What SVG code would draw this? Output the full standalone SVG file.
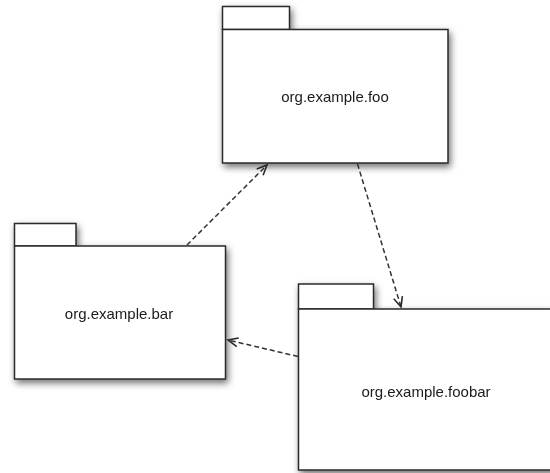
<svg xmlns="http://www.w3.org/2000/svg" width="550" height="473" viewBox="0 0 550 473">
  <style>
    .pkg { fill: #ffffff; stroke: #2a2a2a; stroke-width: 1.5; }
    .lbl { font-family: "Liberation Sans", Arial, sans-serif; font-size: 15px; fill: #1a1a1a; text-anchor: middle; }
    .dep { fill: none; stroke: #333333; stroke-width: 1.5; stroke-dasharray: 5 3; }
  </style>
  <defs>
    <filter id="shadow" x="-10%" y="-10%" width="130%" height="130%">
      <feDropShadow dx="2" dy="3.5" stdDeviation="3.5" flood-color="#000" flood-opacity="0.55"/>
    </filter>
    <marker id="open" markerUnits="userSpaceOnUse" markerWidth="16" markerHeight="16" refX="0" refY="0" viewBox="-12 -8 16 16" orient="auto" overflow="visible">
      <path d="M -10 -4.5 L 0 0 L -10 4.5" fill="none" stroke="#2a2a2a" stroke-width="1.6" stroke-dasharray="none"/>
    </marker>
  </defs>
  <rect width="550" height="473" fill="#ffffff"/>

  <g id="foo" filter="url(#shadow)">
    <rect class="pkg" x="222.5" y="6.5" width="67" height="23"/>
    <rect class="pkg" x="222.5" y="29.5" width="225.5" height="133.5"/>
    <text class="lbl" x="335" y="102">org.example.foo</text>
  </g>

  <g id="bar" filter="url(#shadow)">
    <rect class="pkg" x="14.5" y="223.5" width="61.5" height="22.5"/>
    <rect class="pkg" x="14.5" y="246" width="211" height="133"/>
    <text class="lbl" x="119" y="319">org.example.bar</text>
  </g>

  <g id="foobar" filter="url(#shadow)">
    <rect class="pkg" x="298.5" y="284" width="75" height="25"/>
    <rect class="pkg" x="298.5" y="309" width="255" height="161"/>
    <text class="lbl" x="426" y="397">org.example.foobar</text>
  </g>

  <g id="connectors">
    <line class="dep" x1="187" y1="245" x2="267" y2="165" marker-end="url(#open)"/>
    <line class="dep" x1="357.5" y1="164" x2="401" y2="307" marker-end="url(#open)"/>
    <line class="dep" x1="298" y1="356.5" x2="228" y2="340" marker-end="url(#open)"/>
  </g>
</svg>
